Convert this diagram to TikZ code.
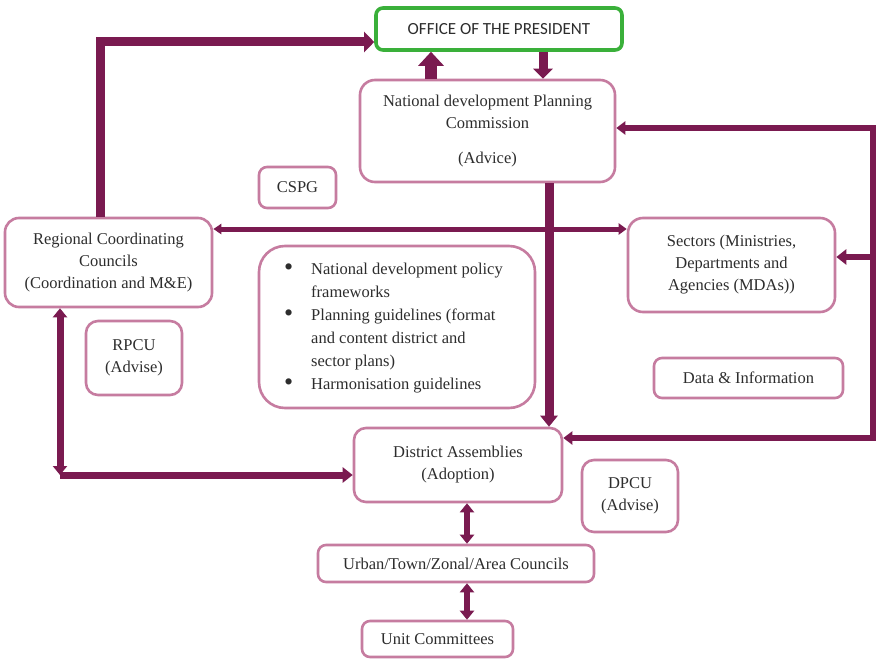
\documentclass[tikz,border=0pt]{standalone}
\usepackage{fontspec}
\setmainfont{Liberation Serif}
\newfontfamily\calfont{Carlito}
\usetikzlibrary{arrows.meta}
\definecolor{arrc}{RGB}{122,26,80}
\definecolor{boxc}{RGB}{198,124,160}
\definecolor{presg}{RGB}{58,176,58}
\definecolor{txtc}{RGB}{45,45,45}
\newcommand{\bigbul}{\hspace{-3pt}\raisebox{-1pt}{\fontsize{26}{23}\selectfont\textbullet}}
\begin{document}
\begin{tikzpicture}[x=1pt,y=-1pt,
  box/.style={draw=boxc, line width=2.6pt, rounded corners=10pt, fill=white,
    align=center, text=txtc, inner sep=0pt,
    font=\rmfamily\fontsize{16.5}{22}\selectfont},
  conn/.style={draw=arrc, line join=miter},
  bigtip/.style={line width=12pt, -{Triangle[length=14pt,width=25pt]}},
  midtip/.style={line width=9pt, -{Triangle[length=10pt,width=19pt]}},
  thintip/.style={line width=6.5pt}]
\useasboundingbox (0,0) rectangle (877,661);
\fill[white] (0,0) rectangle (877,661);

% nodes
\node[box, draw=presg, line width=3.6pt, rounded corners=7pt,
      minimum width=246pt, minimum height=42pt,
      font=\calfont\fontsize{17}{20}\selectfont] (pres) at (499,29) {OFFICE OF THE PRESIDENT};
\node[box, minimum width=255pt, minimum height=102pt, rounded corners=15pt] (ndpc) at (487.5,131)
  {National development Planning\\Commission\\[13pt](Advice)};
\node[box, minimum width=77pt, minimum height=41pt, rounded corners=8pt] (cspg) at (297.5,187.5) {CSPG};
\node[box, minimum width=207pt, minimum height=89pt, rounded corners=14pt] (rcc) at (108.5,262.5)
  {Regional Coordinating\\Councils\\(Coordination and M\&E)};
\node[box, minimum width=276pt, minimum height=162pt, rounded corners=26pt,
      font=\rmfamily\fontsize{16.5}{23}\selectfont] (pol) at (397,327)
  {\begin{tabular}{@{}p{24pt}@{}l@{}}
   \bigbul & National development policy\\
               & frameworks\\
   \bigbul & Planning guidelines (format\\
               & and content district and\\
               & sector plans)\\
   \bigbul & Harmonisation guidelines
   \end{tabular}\hspace{4pt}};
\node[box, minimum width=207pt, minimum height=94pt, rounded corners=15pt] (sec) at (731.5,265)
  {Sectors (Ministries,\\Departments and\\Agencies (MDAs))};
\node[box, minimum width=96pt, minimum height=74pt, rounded corners=12pt] (rpcu) at (134,358)
  {RPCU\\(Advise)};
\node[box, minimum width=189pt, minimum height=40pt, rounded corners=8pt] (data) at (748.5,378)
  {Data \& Information};
\node[box, minimum width=208pt, minimum height=74pt, rounded corners=12pt] (da) at (458,465)
  {District Assemblies\\(Adoption)};
\node[box, minimum width=96pt, minimum height=72pt, rounded corners=12pt] (dpcu) at (630,496)
  {DPCU\\(Advise)};
\node[box, minimum width=276pt, minimum height=37pt, rounded corners=8pt] (urban) at (456,563.5)
  {Urban/Town/Zonal/Area Councils};
\node[box, minimum width=151pt, minimum height=36pt, rounded corners=8pt] (unit) at (437.5,639)
  {Unit Committees};

% helper coordinates
\coordinate (ct) at (100,42);
\coordinate (xa) at (431,0);
\coordinate (xb) at (543,0);
\coordinate (xc) at (549,0);
\coordinate (hy) at (0,229);
\coordinate (rt) at (873,128);
\coordinate (rb) at (873,438);
\coordinate (rs) at (873,257);
\coordinate (lc) at (60,475);
\coordinate (xd) at (467,0);

% connectors
\draw[conn, line width=9pt, -{Triangle[length=10pt,width=20pt]}]
  (ct |- rcc.north) -- (ct) -- (pres.west |- ct);
\draw[conn, bigtip] (ndpc.north -| xa) -- (pres.south -| xa);
\draw[conn, midtip] (pres.south -| xb) -- (ndpc.north -| xb);
\draw[conn, line width=9pt, -{Triangle[length=11pt,width=17pt]}] (ndpc.south -| xc) -- (da.north -| xc);
\draw[conn, line width=5pt, {Triangle[length=8pt,width=10pt]}-{Triangle[length=8pt,width=11pt]}]
  (rcc.east |- hy) -- (sec.west |- hy);
\draw[conn, thintip, {Triangle[length=9pt,width=13pt]}-{Triangle[length=9pt,width=13pt]}]
  (da.east |- rb) -- (rb) -- (rt) -- (ndpc.east |- rt);
\draw[conn, thintip, -{Triangle[length=10pt,width=15pt]}] (rs) -- (sec.east |- rs);
\draw[conn, line width=7pt, {Triangle[length=9pt,width=14pt]}-{Triangle[length=9pt,width=14pt]}]
  (lc |- rcc.south) -- (lc);
\draw[conn, line width=7pt, -{Triangle[length=10pt,width=15pt]}] (lc) -- (da.west |- lc);
\draw[conn, line width=6.5pt, {Triangle[length=9pt,width=14pt]}-{Triangle[length=9pt,width=14pt]}]
  (da.south -| xd) -- (urban.north -| xd);
\draw[conn, line width=6.5pt, {Triangle[length=9pt,width=14pt]}-{Triangle[length=9pt,width=14pt]}]
  (urban.south -| xd) -- (unit.north -| xd);
\end{tikzpicture}
\end{document}
